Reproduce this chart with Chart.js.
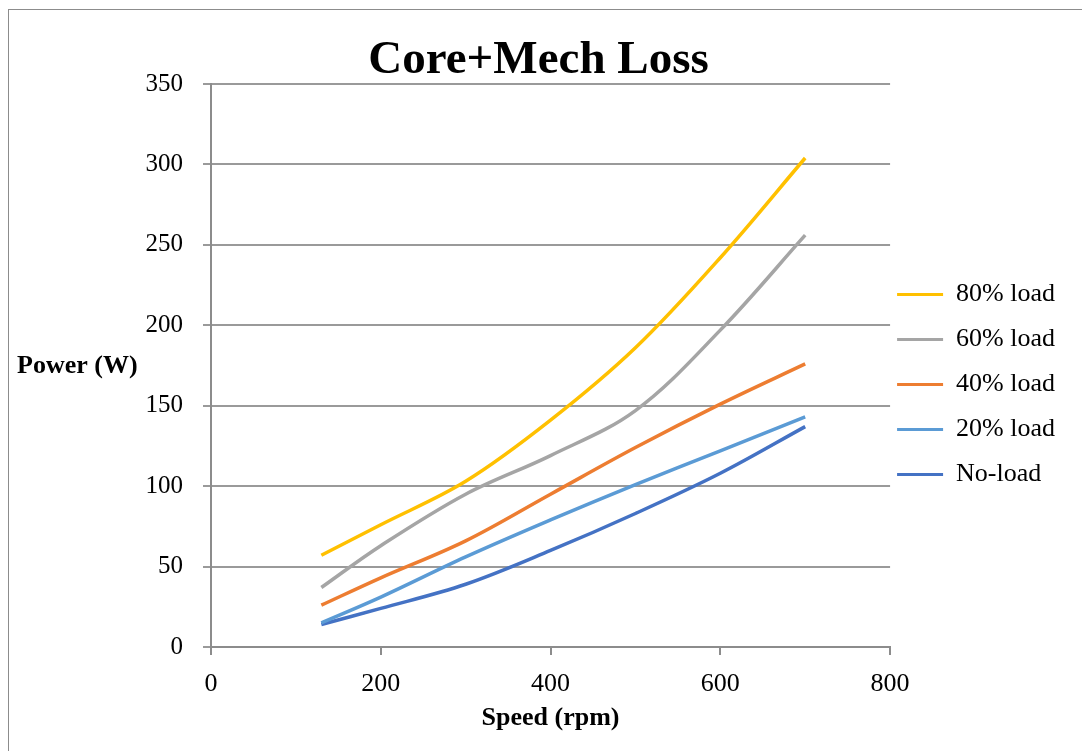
<!doctype html>
<html lang="en">
<head>
<meta charset="utf-8">
<title>Core+Mech Loss</title>
<script src="https://cdn.jsdelivr.net/npm/chart.js@4.4.1/dist/chart.umd.min.js"></script>
<style>
    html, body { margin: 0; padding: 0; background: #fff; overflow: hidden; }
    #frame { position: absolute; left: 8px; top: 9px; width: 1100px; height: 760px; border: 1px solid #8c8c8c; }
    #myChart { position: absolute; left: 0; top: 0; }
</style>
</head>
<body>
<div id="frame"></div>
<canvas id="myChart" width="1082" height="751"></canvas>
<script>
    // values
    var speeds = [130, 200, 300, 400, 500, 600, 700];
    var load80 = [57, 76, 103, 141, 186, 242, 304];
    var load60 = [37, 63, 95, 119, 147, 197, 256];
    var load40 = [26, 43, 66, 95, 124, 151, 176];
    var load20 = [15, 31, 56, 79, 101, 122, 143];
    var noLoad = [14, 24, 39, 60, 83, 108, 137];
    var seriesNames = ['80% load', '60% load', '40% load', '20% load', 'No-load'];
    var seriesColors = ['#FFC000', '#A5A5A5', '#ED7D31', '#5B9BD5', '#4472C4'];
    var xTicks = [0, 200, 400, 600, 800];
    var yTicks = [0, 50, 100, 150, 200, 250, 300, 350];

    var serif = "'Liberation Serif', 'Times New Roman', serif";

    function pts(vals) {
        return speeds.map(function (s, i) { return { x: s, y: vals[i] }; });
    }

    var allSeries = [load80, load60, load40, load20, noLoad];
    var datasets = allSeries.map(function (vals, i) {
        return {
            label: seriesNames[i],
            data: pts(vals),
            borderColor: seriesColors[i],
            backgroundColor: seriesColors[i],
            borderWidth: 3.5,
            pointRadius: 0,
            tension: 0.35,
            fill: false
        };
    });

    // y title drawn flat, like the original
    var flatYTitle = {
        id: 'flatYTitle',
        afterDraw: function (chart) {
            var c = chart.ctx;
            c.save();
            c.font = 'bold 26px ' + serif;
            c.fillStyle = '#000';
            c.textAlign = 'left';
            c.textBaseline = 'middle';
            c.fillText('Power (W)', 17, 366);
            c.restore();
        }
    };

    // nudge legend so it sits where the original had it
    var legendNudge = {
        id: 'legendNudge',
        afterLayout: function (chart) {
            var lg = chart.legend;
            lg.left -= 12; lg.right -= 12;
            lg.top += 9; lg.bottom += 9;
        }
    };

    var ctx = document.getElementById('myChart');
    var myChart = new Chart(ctx, {
        type: 'line',
        data: { datasets: datasets },
        plugins: [flatYTitle, legendNudge],
        options: {
            responsive: false,
            animation: false,
            layout: { padding: { left: 0, right: 5, top: 0, bottom: 0 } },
            plugins: {
                title: {
                    display: true,
                    text: 'Core+Mech Loss',
                    color: '#000',
                    font: { family: serif, size: 47, weight: 'bold', lineHeight: 1.0 },
                    padding: { top: 37, bottom: 0 }
                },
                legend: {
                    position: 'right',
                    labels: {
                        color: '#000',
                        font: { family: serif, size: 26 },
                        boxWidth: 46,
                        boxHeight: 3,
                        padding: 19,
                        generateLabels: function (chart) {
                            return Chart.defaults.plugins.legend.labels.generateLabels(chart).map(function (l) {
                                l.lineWidth = 0;
                                return l;
                            });
                        }
                    }
                },
                tooltip: { enabled: false }
            },
            scales: {
                x: {
                    type: 'linear',
                    min: 0,
                    max: 800,
                    afterFit: function (s) { s.height = 104; },
                    afterBuildTicks: function (s) { s.ticks = xTicks.map(function (v) { return { value: v }; }); },
                    ticks: { color: '#000', font: { family: serif, size: 26 }, padding: 14, maxRotation: 0 },
                    grid: { drawOnChartArea: false, drawTicks: true, tickLength: 8, color: '#8c8c8c', lineWidth: 2 },
                    border: { color: '#8c8c8c', width: 2 },
                    title: {
                        display: true,
                        text: 'Speed (rpm)',
                        color: '#000',
                        font: { family: serif, size: 26, weight: 'bold' },
                        padding: { top: 0, bottom: 17 }
                    }
                },
                y: {
                    min: 0,
                    max: 350,
                    afterFit: function (s) { s.width = 211; },
                    afterBuildTicks: function (s) { s.ticks = yTicks.map(function (v) { return { value: v }; }); },
                    ticks: { color: '#000', font: { family: serif, size: 25 }, padding: 20 },
                    grid: { drawTicks: true, tickLength: 8, color: '#9a9a9a', lineWidth: 2 },
                    border: { color: '#8c8c8c', width: 2 }
                }
            }
        }
    });
</script>
</body>
</html>
